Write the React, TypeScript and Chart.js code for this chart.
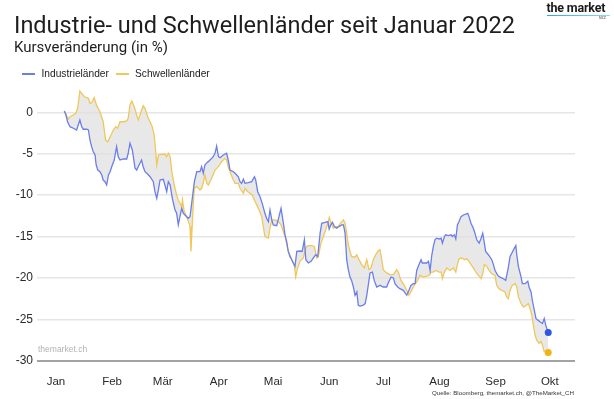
import React, { useEffect, useRef } from "react";
import { Chart, registerables } from "chart.js";

Chart.register(...registerables);

// Month axis (day of year 2022 at which each month starts)
const monthLabels = ["Jan", "Feb", "Mär", "Apr", "Mai", "Jun", "Jul", "Aug", "Sep", "Okt"];
const monthStartDays = [0, 31, 59, 90, 120, 151, 181, 212, 243, 273];
const yTickValues = [-30, -25, -20, -15, -10, -5, 0];

// Industrieländer: day of year 2022 / change in %
const industrieDays = [
  4.6, 5.5, 6.4, 7.7, 9.6, 11.4, 12.3, 13.2, 14.2, 15.1, 17.0, 17.9, 18.8, 19.7, 20.6, 21.6, 22.2, 23.1, 24.3, 25.3,
  26.1, 27.1, 28.0, 29.0, 29.9, 30.8, 32.2, 33.5, 34.4, 35.4, 37.2, 39.1, 39.9, 40.9, 42.2, 43.7, 44.6, 45.9, 47.3, 48.2,
  49.2, 50.2, 52.0, 53.8, 54.7, 55.7, 56.6, 57.5, 59.3, 60.2, 61.2, 62.1, 63.1, 64.3, 65.8, 66.7, 67.6, 68.5, 69.5, 70.4,
  71.3, 73.1, 74.1, 75.0, 76.5, 77.8, 79.6, 80.5, 81.4, 82.3, 83.4, 84.2, 85.1, 86.1, 86.9, 87.9, 88.8, 89.8, 90.7, 92.5,
  94.3, 95.2, 96.2, 98.0, 99.0, 100.8, 101.7, 102.6, 103.6, 104.5, 106.3, 108.2, 109.7, 110.4, 111.5, 112.8, 114.0, 115.5, 116.4, 117.4,
  118.3, 119.3, 120.1, 122.0, 122.8, 124.4, 125.7, 126.6, 127.5, 128.4, 129.3, 130.3, 131.2, 132.1, 133.1, 134.9, 136.1, 137.3, 138.1, 139.5,
  141.0, 142.2, 143.6, 144.7, 146.0, 146.9, 148.7, 150.3, 151.0, 151.9, 152.8, 153.9, 155.2, 156.4, 158.0, 158.9, 159.8, 160.7, 161.6, 162.5,
  163.4, 164.4, 165.3, 166.3, 167.1, 168.1, 169.9, 170.9, 171.8, 173.6, 174.9, 175.9, 177.3, 179.1, 180.9, 182.8, 183.7, 185.2, 186.5, 187.4,
  188.9, 190.1, 192.0, 193.9, 195.1, 196.2, 197.5, 198.5, 199.4, 200.3, 201.8, 202.5, 205.0, 205.9, 206.8, 207.7, 208.6, 209.5, 210.4, 211.8,
  212.9, 213.6, 214.7, 215.4, 216.9, 218.4, 219.1, 220.2, 221.0, 221.9, 222.8, 223.9, 225.2, 226.5, 227.6, 228.3, 229.4, 230.7, 231.6, 232.6,
  233.9, 235.0, 235.9, 236.8, 237.5, 239.0, 240.9, 241.8, 242.7, 244.2, 245.4, 247.3, 248.6, 250.0, 251.0, 252.0, 253.4, 254.2, 254.7, 255.6,
  257.1, 257.8, 259.3, 260.8, 261.5, 262.6, 263.3, 264.4, 265.3, 266.4, 267.6, 268.9, 269.9, 270.7, 272.1,
];
const industrieValues = [
  0.16, -0.33, -1.14, -1.74, -1.93, -2.14, -1.53, -0.93, -1.74, -2.05, -2.05, -2.14, -3.35, -4.15, -4.76, -5.16, -6.36, -6.97, -7.17, -7.57,
  -8.18, -8.38, -8.78, -7.57, -7.17, -6.57, -5.76, -4.15, -5.36, -5.76, -5.64, -5.64, -4.95, -3.74, -4.55, -6.76, -6.97, -6.36, -5.76, -6.57,
  -7.17, -7.37, -7.78, -8.38, -9.59, -10.39, -9.38, -8.18, -8.09, -8.78, -9.59, -8.38, -8.78, -10.39, -11.8, -12.2, -13.6, -12.6, -11.6, -12.2,
  -12.4, -12.8, -12.6, -11.0, -8.38, -7.17, -7.17, -6.57, -7.37, -6.36, -6.08, -5.96, -5.76, -5.56, -5.36, -4.95, -4.07, -5.36, -5.48, -5.16,
  -4.95, -5.76, -6.97, -7.17, -7.37, -7.78, -8.38, -8.58, -8.09, -8.58, -8.5, -8.38, -7.78, -8.18, -9.59, -10.2, -11.0, -12.2, -12.8, -13.2,
  -11.8, -13.0, -13.6, -13.7, -13.0, -11.6, -13.4, -14.8, -15.6, -16.8, -17.4, -17.8, -18.2, -18.6, -16.8, -16.75, -16.8, -15.4, -17.8, -18.2,
  -18.0, -17.6, -17.2, -17.4, -14.6, -13.4, -13.3, -13.2, -14.1, -13.6, -13.3, -13.8, -14.0, -13.8, -13.6, -13.6, -14.6, -17.8, -19.0, -19.9,
  -20.3, -21.1, -22.1, -21.7, -23.3, -23.4, -23.3, -23.1, -22.1, -19.4, -19.3, -20.3, -21.1, -20.9, -21.1, -21.1, -20.6, -19.9, -20.0, -20.7,
  -21.1, -21.3, -21.5, -22.1, -21.5, -20.9, -20.7, -20.7, -19.1, -18.6, -17.8, -18.2, -18.2, -18.0, -19.1, -17.3, -16.2, -15.4, -15.2, -15.3,
  -15.2, -15.8, -15.0, -14.8, -14.9, -14.8, -15.0, -14.8, -15.3, -13.6, -13.2, -12.6, -12.4, -12.3, -12.2, -12.6, -13.4, -14.0, -14.6, -15.4,
  -15.8, -15.2, -14.6, -15.8, -16.8, -17.2, -17.8, -18.4, -19.1, -19.7, -19.9, -20.1, -20.3, -18.8, -17.4, -17.0, -16.4, -16.1, -17.2, -18.6,
  -19.9, -20.7, -20.7, -20.4, -21.1, -21.7, -22.7, -23.9, -24.9, -25.1, -25.3, -25.5, -24.9, -25.7, -26.6,
];

// Schwellenländer: day of year 2022 / change in %
const schwellenDays = [
  4.6, 6.8, 7.7, 9.6, 10.9, 12.0, 13.2, 14.2, 15.7, 17.0, 17.9, 18.8, 20.0, 21.1, 22.5, 24.3, 26.1, 27.4, 28.6, 29.9,
  31.7, 33.0, 34.1, 35.4, 37.2, 39.1, 39.9, 40.9, 41.9, 43.3, 44.6, 45.5, 47.0, 48.2, 49.2, 50.7, 52.0, 53.2, 54.3, 55.2,
  55.7, 56.6, 58.4, 60.2, 61.2, 62.1, 63.1, 64.0, 65.4, 66.7, 67.6, 69.5, 69.9, 70.9, 72.3, 74.1, 74.6, 75.9, 76.5, 77.8,
  79.6, 80.5, 81.4, 82.3, 83.4, 84.2, 86.1, 87.9, 89.8, 91.6, 93.4, 94.3, 95.2, 96.2, 98.0, 99.0, 100.8, 101.7, 103.6, 104.5,
  106.0, 107.2, 108.5, 110.1, 111.9, 113.7, 114.6, 115.5, 117.4, 118.3, 119.3, 121.1, 122.8, 124.4, 126.6, 128.4, 129.3, 130.7, 131.8, 132.5,
  133.6, 134.9, 136.7, 138.1, 138.6, 139.5, 141.3, 142.8, 144.2, 145.0, 146.5, 147.8, 149.1, 150.3, 151.1, 152.1, 153.3, 155.2, 156.0, 157.6,
  158.9, 159.8, 160.7, 161.6, 162.5, 163.4, 165.3, 166.3, 167.5, 169.0, 170.4, 171.8, 173.0, 174.1, 175.4, 176.7, 178.2, 179.1, 180.1, 180.9,
  182.8, 184.6, 186.5, 188.3, 189.2, 190.7, 192.0, 193.9, 195.1, 196.6, 198.5, 199.4, 201.2, 203.0, 205.0, 206.2, 207.3, 208.6, 209.9, 211.8,
  212.9, 213.6, 214.7, 216.0, 217.8, 219.7, 221.0, 221.9, 222.8, 224.2, 225.8, 227.1, 228.3, 229.4, 230.7, 232.1, 233.5, 235.0, 235.9, 236.8,
  238.1, 239.4, 240.9, 242.7, 243.6, 244.9, 246.4, 248.2, 249.1, 250.0, 251.0, 252.2, 253.8, 254.7, 255.6, 257.1, 258.3, 259.7, 261.1, 262.1,
  263.0, 263.9, 264.8, 265.7, 267.0, 268.1, 268.9, 269.9, 271.2, 272.1,
];
const schwellenValues = [
  0.16, -0.81, -0.53, -0.33, -0.12, 0.48, 2.57, 2.29, 1.88, 1.77, 1.69, 1.09, 1.21, 1.77, 0.8, 0.07, -1.14, -3.35, -3.55, -2.95,
  -2.14, -1.74, -1.93, -1.14, -1.14, -1.05, -0.72, 0.88, 1.36, 0.68, -0.33, -0.93, 0.07, 0.8, 0.48, -0.53, -1.14, -1.74, -2.74, -4.95,
  -6.36, -5.16, -5.07, -5.04, -5.36, -4.95, -5.36, -7.17, -8.78, -10.0, -10.6, -11.4, -10.6, -12.0, -12.6, -13.8, -16.8, -11.0, -9.18, -8.98,
  -9.38, -9.18, -8.58, -7.57, -8.58, -8.78, -7.97, -6.97, -6.57, -5.96, -5.56, -5.76, -6.57, -7.17, -8.18, -8.58, -8.58, -9.18, -9.78, -9.18,
  -9.59, -9.78, -9.99, -10.8, -11.6, -12.6, -13.8, -15.0, -15.2, -14.0, -13.0, -13.0, -13.2, -13.6, -15.0, -16.8, -17.2, -18.0, -18.6, -19.9,
  -18.8, -18.0, -17.6, -16.4, -16.2, -16.1, -16.1, -16.2, -17.6, -17.4, -15.8, -15.0, -14.2, -13.4, -12.7, -13.4, -14.0, -13.8, -13.8, -13.3,
  -13.0, -13.4, -14.6, -16.0, -16.8, -17.4, -17.5, -17.2, -17.8, -18.4, -18.8, -17.8, -19.0, -18.8, -17.8, -17.2, -16.7, -16.6, -17.8, -19.0,
  -19.4, -19.6, -19.6, -19.0, -19.3, -20.3, -20.7, -21.5, -22.1, -21.5, -20.7, -20.5, -19.7, -19.9, -19.8, -19.7, -19.3, -19.3, -19.1, -19.3,
  -19.3, -20.1, -19.3, -18.8, -19.1, -18.8, -19.3, -18.4, -17.7, -17.6, -17.8, -17.7, -18.0, -18.4, -18.8, -19.3, -19.7, -20.1, -19.5, -18.4,
  -18.6, -19.1, -19.5, -19.7, -20.9, -21.3, -21.5, -21.7, -22.3, -22.5, -21.5, -20.9, -20.7, -21.1, -22.3, -23.1, -23.5, -23.4, -23.1, -23.7,
  -24.5, -25.7, -26.9, -27.5, -27.9, -27.7, -28.1, -28.9, -29.0, -29.0,
];

const BLUE_LINE = "#6b7ee9";
const BLUE_DOT = "#2f55e6";
const YELLOW_LINE = "#f0c75a";
const YELLOW_DOT = "#f1b512";
const SANS = "'Liberation Sans', Arial, sans-serif";
const FILL = "rgba(222,222,222,0.7)";

export default function App() {
  const canvasRef = useRef<HTMLCanvasElement | null>(null);

  useEffect(() => {
    const canvas = canvasRef.current;
    if (!canvas) return;
    const chart = new Chart(canvas, {
      type: "line",
      data: {
        datasets: [
          {
            label: "Industrieländer",
            data: industrieDays.map((d, i) => ({ x: d, y: industrieValues[i] })),
            borderColor: BLUE_LINE,
            borderWidth: 1.3,
            pointRadius: (ctx: any) => (ctx.dataIndex === industrieDays.length - 1 ? 3.5 : 0),
            pointBackgroundColor: BLUE_DOT,
            pointBorderColor: BLUE_DOT,
            pointBorderWidth: 0,
            pointHoverRadius: 0,
            fill: false,
            tension: 0,
          },
          {
            label: "Schwellenländer",
            data: schwellenDays.map((d, i) => ({ x: d, y: schwellenValues[i] })),
            borderColor: YELLOW_LINE,
            borderWidth: 1.3,
            pointRadius: (ctx: any) => (ctx.dataIndex === schwellenDays.length - 1 ? 3.5 : 0),
            pointBackgroundColor: YELLOW_DOT,
            pointBorderColor: YELLOW_DOT,
            pointBorderWidth: 0,
            pointHoverRadius: 0,
            fill: { target: 0, above: FILL, below: FILL },
            backgroundColor: FILL,
            tension: 0,
          },
        ],
      },
      options: {
        responsive: false,
        animation: false,
        events: [],
        layout: { padding: { top: 87.46, right: 39, bottom: 8.3, left: 0 } },
        plugins: {
          legend: { display: false },
          title: { display: false },
          tooltip: { enabled: false },
        },
        scales: {
          x: {
            type: "linear",
            min: -10.5,
            max: 286.9,
            grid: { display: false, drawTicks: false },
            border: { display: false },
            afterBuildTicks: (scale: any) => {
              scale.ticks = monthStartDays.map((v) => ({ value: v }));
            },
            afterFit: (scale: any) => {
              scale.height = 30;
            },
            ticks: {
              autoSkip: false,
              maxRotation: 0,
              minRotation: 0,
              padding: 14,
              color: "#2a2a2a",
              font: { family: SANS, size: 11.5 },
              callback: (v: any) => {
                const i = monthStartDays.indexOf(Number(v));
                return i >= 0 ? monthLabels[i] : "";
              },
            },
          },
          y: {
            min: -30,
            max: 3,
            afterBuildTicks: (scale: any) => {
              scale.ticks = yTickValues.map((v) => ({ value: v }));
            },
            afterFit: (scale: any) => {
              scale.width = 37;
            },
            grid: {
              drawTicks: false,
              color: (ctx: any) => (ctx.tick && ctx.tick.value === -30 ? "#a3a3a3" : "#e6e6e6"),
              lineWidth: (ctx: any) => (ctx.tick && ctx.tick.value === -30 ? 2 : 1.5),
            },
            border: { display: false },
            ticks: {
              padding: 4,
              color: "#2a2a2a",
              font: { family: SANS, size: 12 },
              callback: (v: any) => String(v),
            },
          },
        },
      },
    });
    return () => chart.destroy();
  }, []);

  const abs = (s: React.CSSProperties): React.CSSProperties => ({
    position: "absolute",
    whiteSpace: "nowrap",
    lineHeight: 1,
    margin: 0,
    ...s,
  });

  return (
    <div
      style={{
        position: "fixed",
        left: 0,
        top: 0,
        width: 614,
        height: 399,
        background: "#fff",
        overflow: "hidden",
      }}
    >
      <canvas ref={canvasRef} width={614} height={399} style={{ position: "absolute", left: 0, top: 0 }} />
      <div style={abs({ left: 14, top: 14, fontFamily: "Roboto, sans-serif", fontSize: 23.5, color: "#1e1e1e" })}>
        Industrie- und Schwellenländer seit Januar 2022
      </div>
      <div style={abs({ left: 14, top: 40, fontFamily: "Roboto, sans-serif", fontSize: 15, color: "#1e1e1e" })}>
        Kursveränderung (in %)
      </div>
      {/* logo */}
      <div
        style={abs({
          left: 546.5,
          top: 2,
          fontFamily: "Roboto, sans-serif",
          fontWeight: 700,
          fontSize: 12.5,
          color: "#1b1b1b",
          letterSpacing: -0.2,
        })}
      >
        the market
      </div>
      <div
        style={abs({
          left: 546.5,
          top: 14.5,
          width: 63,
          height: 1.8,
          background: "linear-gradient(to right, #2aa7e6, #8fdcf7)",
        })}
      />
      <div style={abs({ left: 599, top: 16.5, fontFamily: SANS, fontWeight: 700, fontSize: 3.6, color: "#777" })}>NZZ</div>
      {/* legend */}
      <div style={abs({ left: 22, top: 73, width: 13, height: 1.5, background: BLUE_LINE })} />
      <div style={abs({ left: 41.5, top: 69.2, fontFamily: SANS, fontSize: 10.2, color: "#222" })}>Industrieländer</div>
      <div style={abs({ left: 116, top: 73, width: 12.5, height: 1.5, background: YELLOW_LINE })} />
      <div style={abs({ left: 135, top: 69.2, fontFamily: SANS, fontSize: 10.2, color: "#222" })}>Schwellenländer</div>
      {/* watermark */}
      <div style={abs({ left: 38, top: 344.5, fontFamily: SANS, fontSize: 8.5, color: "#b3b3b3" })}>themarket.ch</div>
      {/* source */}
      <div style={abs({ right: 40, top: 390, fontFamily: SANS, fontSize: 6.2, color: "#333" })}>
        Quelle: Bloomberg, themarket.ch, @TheMarket_CH
      </div>
    </div>
  );
}
